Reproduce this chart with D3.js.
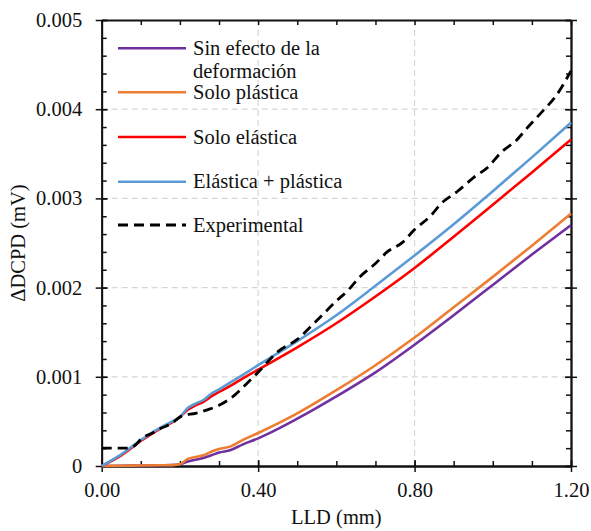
<!DOCTYPE html>
<html>
<head>
<meta charset="utf-8">
<script src="https://cdn.jsdelivr.net/npm/d3@7"></script>
<style>
  body { margin: 0; background: #fff; }
  svg { display: block; }
  text { font-family: "Liberation Serif", "Times New Roman", serif; fill: #111; }
</style>
</head>
<body>
<svg id="chart" width="591" height="531"></svg>
<script>
// ---- data ----
const xModel = [0, 0.05, 0.10, 0.15, 0.18, 0.20, 0.22, 0.24, 0.26, 0.28, 0.30, 0.33, 0.36, 0.40, 0.50, 0.60, 0.70, 0.80, 0.90, 1.00, 1.10, 1.20];
const ySinEfecto = [0, 0.000003, 0.000005, 0.000008, 0.00001, 0.00002, 0.00005, 0.00007, 0.00009, 0.00012, 0.00015, 0.00018, 0.00024, 0.00031, 0.00053, 0.00078, 0.00105, 0.00136, 0.00169, 0.00203, 0.00237, 0.00270];
const ySoloPlastica = [0, 0.000003, 0.000005, 0.000008, 0.00001, 0.00002, 0.00008, 0.00010, 0.00012, 0.00016, 0.00019, 0.00022, 0.00029, 0.00037, 0.00059, 0.00085, 0.00113, 0.00144, 0.00178, 0.00212, 0.00247, 0.00283];
const ySoloElastica = [0, 0.00012, 0.00028, 0.00042, 0.00049, 0.00055, 0.00063, 0.00068, 0.00072, 0.00078, 0.00083, 0.00090, 0.00098, 0.00108, 0.00133, 0.00160, 0.00190, 0.00222, 0.00257, 0.00293, 0.00329, 0.00366];
const yElasticaPlastica = [0, 0.00013, 0.00029, 0.00043, 0.00050, 0.00055, 0.00065, 0.00070, 0.00074, 0.00081, 0.00086, 0.00094, 0.00102, 0.00113, 0.00140, 0.00169, 0.00202, 0.00236, 0.00271, 0.00308, 0.00346, 0.00385];
const xExp = [0, 0.07, 0.09, 0.10, 0.13, 0.15, 0.18, 0.20, 0.21, 0.24, 0.27, 0.30, 0.33, 0.37, 0.40, 0.45, 0.50, 0.55, 0.60, 0.63, 0.66, 0.70, 0.73, 0.77, 0.80, 0.84, 0.87, 0.91, 0.95, 0.99, 1.02, 1.06, 1.09, 1.13, 1.16, 1.20];
const yExp = [0.00020, 0.00020, 0.00025, 0.00030, 0.00037, 0.00042, 0.00048, 0.00055, 0.00057, 0.00059, 0.00063, 0.00068, 0.00076, 0.00092, 0.00105, 0.00128, 0.00142, 0.00163, 0.00185, 0.00197, 0.00212, 0.00227, 0.00240, 0.00251, 0.00265, 0.00280, 0.00295, 0.00308, 0.00323, 0.00336, 0.00351, 0.00365, 0.00380, 0.00399, 0.00414, 0.00443];
const seriesNames = ["Sin efecto de la|deformación", "Solo plástica", "Solo elástica", "Elástica + plástica", "Experimental"];
const seriesColors = ["#7030A0", "#ED7D31", "#FF0000", "#5B9BD5", "#000000"];
const xTickValues = [0, 0.4, 0.8, 1.2];
const xTickLabels = ["0.00", "0.40", "0.80", "1.20"];
const yTickValues = [0, 0.001, 0.002, 0.003, 0.004, 0.005];
const yTickLabels = ["0", "0.001", "0.002", "0.003", "0.004", "0.005"];
const xTitle = "LLD (mm)";
const yTitle = "ΔDCPD (mV)";

// ---- layout ----
const L = 101.7, R = 571, T = 20, B = 466;
const svg = d3.select("#chart");
const x = d3.scaleLinear().domain([0, 1.2]).range([L, R]);
const y = d3.scaleLinear().domain([0, 0.005]).range([B, T]);

const xMinor = d3.range(0, 12.001, 1).map(d => d / 10);
const yMinor = d3.range(0, 25.001, 1).map(d => d * 0.0002);

// grid
const grid = svg.append("g").attr("stroke", "#d6d6d6").attr("stroke-width", 1.2).attr("stroke-dasharray", "6,4");
[0.4, 0.8].forEach(v => grid.append("line").attr("x1", x(v)).attr("x2", x(v)).attr("y1", T).attr("y2", B));
[0.001, 0.002, 0.003, 0.004].forEach(v => grid.append("line").attr("y1", y(v)).attr("y2", y(v)).attr("x1", L).attr("x2", R));

// axes
function styleAxis(g) {
  g.selectAll("path.domain").attr("stroke", "#111").attr("stroke-width", 1.8);
  g.selectAll(".tick line").attr("stroke", "#111").attr("stroke-width", 1.5);
  g.selectAll("text").style("font-family", '"Liberation Serif", "Times New Roman", serif').style("font-size", "20.5px").attr("fill", "#111");
}
// bottom
svg.append("g").attr("transform", `translate(0,${B})`)
  .call(d3.axisBottom(x).tickValues(xMinor).tickSize(-5).tickSizeOuter(0).tickFormat(""))
  .call(styleAxis);
svg.append("g").attr("transform", `translate(0,${B})`)
  .call(d3.axisBottom(x).tickValues(xTickValues).tickSize(6).tickSizeOuter(0).tickPadding(10.5)
    .tickFormat((d, i) => xTickLabels[i]))
  .call(g => g.selectAll(".tick").append("line").attr("y2", -6))
  .call(styleAxis);
// top
svg.append("g").attr("transform", `translate(0,${T})`)
  .call(d3.axisTop(x).tickValues(xMinor).tickSize(-5).tickSizeOuter(0).tickFormat(""))
  .call(styleAxis);
// left
svg.append("g").attr("transform", `translate(${L},0)`)
  .call(d3.axisLeft(y).tickValues(yMinor).tickSize(-5).tickSizeOuter(0).tickFormat(""))
  .call(styleAxis);
svg.append("g").attr("transform", `translate(${L},0)`)
  .call(d3.axisLeft(y).tickValues(yTickValues).tickSize(6).tickSizeOuter(0).tickPadding(13.5)
    .tickFormat((d, i) => yTickLabels[i]))
  .call(g => g.selectAll(".tick").append("line").attr("x2", 6))
  .call(styleAxis);
// right
svg.append("g").attr("transform", `translate(${R},0)`)
  .call(d3.axisRight(y).tickValues(yMinor).tickSize(-5).tickSizeOuter(0).tickFormat(""))
  .call(styleAxis);
svg.append("g").attr("transform", `translate(${R},0)`)
  .call(d3.axisRight(y).tickValues(yTickValues).tickSize(6).tickSizeOuter(0).tickFormat(""))
  .call(g => g.selectAll(".tick").append("line").attr("x2", -6))
  .call(styleAxis);

// titles
svg.append("text").attr("x", (L + R) / 2).attr("y", 524).attr("text-anchor", "middle")
  .style("font-size", "20.5px").text(xTitle);
svg.append("text").attr("transform", `translate(25,${(T + B) / 2}) rotate(-90)`).attr("text-anchor", "middle")
  .style("font-size", "20.5px").text(yTitle);

// lines
const modelY = [ySinEfecto, ySoloPlastica, ySoloElastica, yElasticaPlastica];
const line = d3.line().x(d => x(d[0])).y(d => y(d[1])).curve(d3.curveMonotoneX);
const plot = svg.append("g");
modelY.forEach((ys, i) => {
  plot.append("path").datum(xModel.map((xv, j) => [xv, ys[j]]))
    .attr("d", line).attr("fill", "none").attr("stroke", seriesColors[i])
    .attr("stroke-width", 2.6).attr("stroke-linejoin", "round");
});
plot.append("path").datum(xExp.map((xv, j) => [xv, yExp[j]]))
  .attr("d", line).attr("fill", "none").attr("stroke", seriesColors[4])
  .attr("stroke-width", 2.8).attr("stroke-dasharray", "10,6");

// legend
const legY = [48.3, 92.3, 137, 181.7, 225];
const leg = svg.append("g");
seriesNames.forEach((name, i) => {
  leg.append("line").attr("x1", 118).attr("x2", 186).attr("y1", legY[i]).attr("y2", legY[i])
    .attr("stroke", seriesColors[i]).attr("stroke-width", i === 4 ? 2.8 : 2.6)
    .attr("stroke-dasharray", i === 4 ? "10,6" : null);
  const parts = name.split("|");
  parts.forEach((p, k) => {
    leg.append("text").attr("x", 193).attr("y", legY[i] + 6.5 + k * 23.5)
      .style("font-size", "20.5px").text(p);
  });
});
</script>
</body>
</html>
